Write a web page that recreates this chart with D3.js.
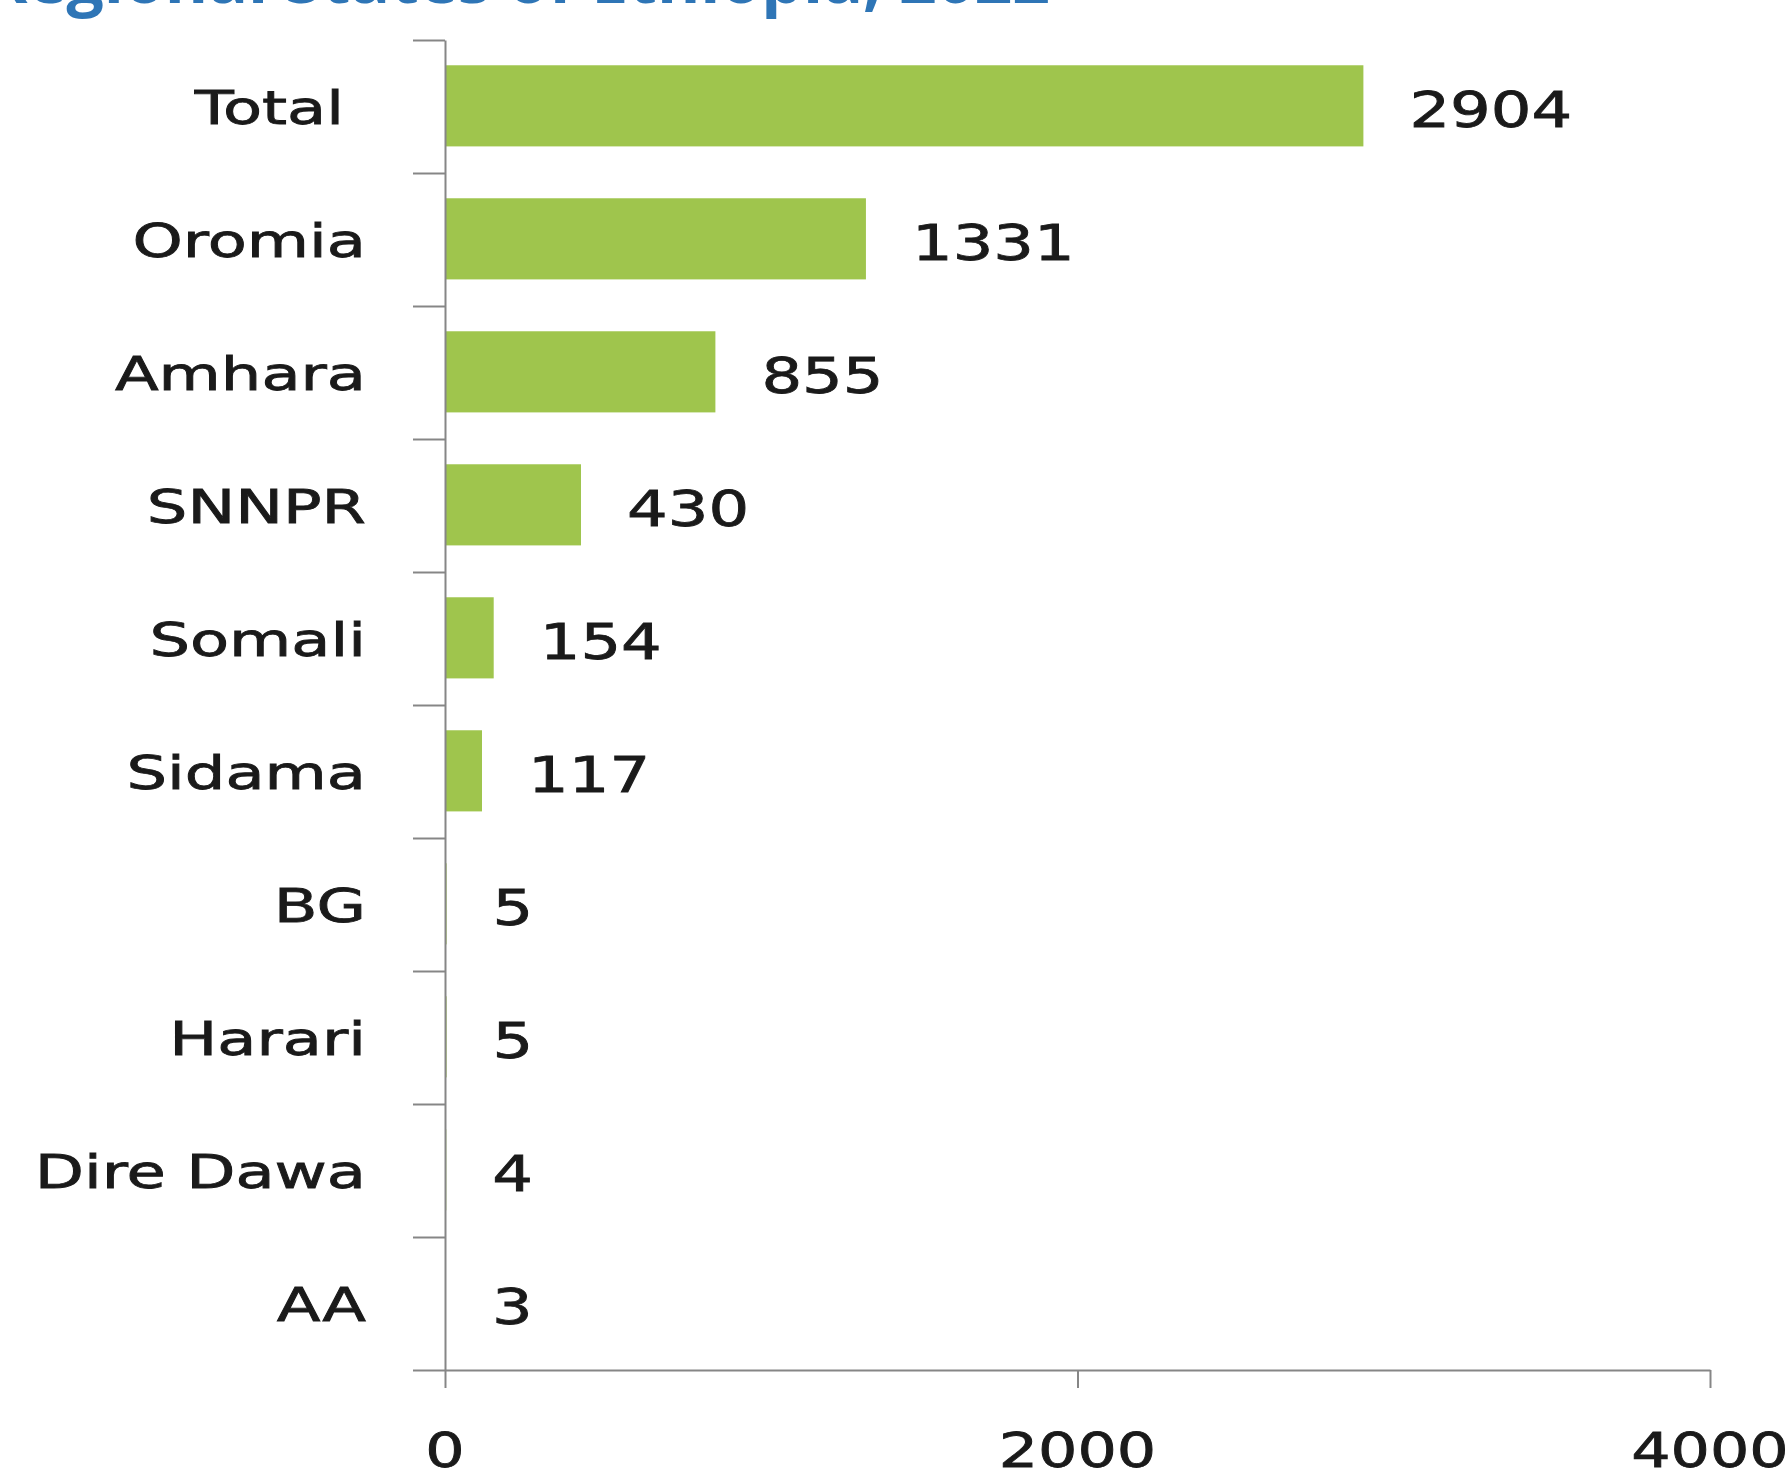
<!DOCTYPE html>
<html>
<head>
<meta charset="utf-8">
<script src="https://cdn.jsdelivr.net/npm/d3@7"></script>
<style>
  html, body { margin: 0; padding: 0; background: #fff; overflow: hidden; }
</style>
</head>
<body>
<div id="chart"></div>
<script>
// data
const regions = ["Total", "Oromia", "Amhara", "SNNPR", "Somali", "Sidama", "BG", "Harari", "Dire Dawa", "AA"];
const counts = [2904, 1331, 855, 430, 154, 117, 5, 5, 4, 3];
const xTicks = [0, 2000, 4000];
const titleText = "Malaria Cases by Regional States of Ethiopia, 2022";

const width = 1790, height = 1477;
const plotLeft = 445, plotRight = 1710, plotTop = 40, plotBottom = 1370;

const svg = d3.select("#chart").append("svg")
  .attr("width", width)
  .attr("height", height)
  .style("font-family", '"DejaVu Sans", Verdana, sans-serif');

// title, mostly cut off at the top edge (as in the source image)
svg.append("text")
  .attr("x", 1050)
  .attr("y", 3)
  .attr("text-anchor", "end")
  .style("font-family", '"Open Sans", sans-serif')
  .style("font-weight", "bold")
  .style("font-size", "66px")
  .style("fill", "#2e75b6")
  .text(titleText);

const x = d3.scaleLinear().domain([0, 4000]).range([plotLeft, plotRight]);
const y = d3.scaleBand().domain(regions).range([plotTop, plotBottom]).padding(0);
// linear index scale just for the boundary ticks on the category axis
const yIdx = d3.scaleLinear().domain([0, regions.length]).range([plotTop, plotBottom]);

const data = regions.map((r, i) => ({ region: r, value: counts[i] }));

// bars
svg.selectAll(".bar")
  .data(data)
  .enter()
  .append("rect")
  .attr("class", "bar")
  .attr("x", x(0))
  .attr("y", d => y(d.region) + y.bandwidth() * 0.19)
  .attr("width", d => x(d.value) - x(0))
  .attr("height", y.bandwidth() * 0.61)
  .attr("fill", "#9fc54d");

// x axis
const xAxis = svg.append("g")
  .attr("transform", "translate(0," + plotBottom + ")")
  .call(d3.axisBottom(x).tickValues(xTicks).tickSize(18).tickSizeOuter(0).tickFormat(""));
xAxis.select(".domain").attr("stroke", "#868686").attr("stroke-width", 2);
xAxis.selectAll(".tick line").attr("stroke", "#868686").attr("stroke-width", 2);

// y axis with ticks between categories
const yAxis = svg.append("g")
  .attr("transform", "translate(" + plotLeft + ",0)")
  .call(d3.axisLeft(yIdx).tickValues(d3.range(regions.length + 1)).tickSize(32).tickSizeOuter(0).tickFormat(""));
yAxis.select(".domain").attr("stroke", "#868686").attr("stroke-width", 2);
yAxis.selectAll(".tick line").attr("stroke", "#868686").attr("stroke-width", 2);

// x tick labels
svg.selectAll(".xlab")
  .data(xTicks)
  .enter()
  .append("text")
  .attr("class", "xlab")
  .attr("transform", d => "translate(" + x(d) + ",1467) scale(1.29,1)")
  .attr("text-anchor", "middle")
  .style("font-size", "48px")
  .style("fill", "#1a1a1a")
  .style("stroke", "#1a1a1a")
  .style("stroke-width", 0.8)
  .text(d => d);

// category labels
svg.selectAll(".ylab")
  .data(data)
  .enter()
  .append("text")
  .attr("class", "ylab")
  .attr("transform", d => "translate(" + (d.region === "Total" ? 344 : 366) + "," + (y(d.region) + y.bandwidth() / 2 + 17) + ") scale(1.36,1)")
  .attr("text-anchor", "end")
  .style("font-size", "47px")
  .style("fill", "#1a1a1a")
  .style("stroke", "#1a1a1a")
  .style("stroke-width", 0.8)
  .text(d => d.region);

// value labels
svg.selectAll(".vlab")
  .data(data)
  .enter()
  .append("text")
  .attr("class", "vlab")
  .attr("transform", d => "translate(" + (x(d.value) + 46) + "," + (y(d.region) + y.bandwidth() / 2 + 20) + ") scale(1.28,1)")
  .attr("text-anchor", "start")
  .style("font-size", "50px")
  .style("fill", "#1a1a1a")
  .style("stroke", "#1a1a1a")
  .style("stroke-width", 0.8)
  .text(d => d.value);
</script>
</body>
</html>
